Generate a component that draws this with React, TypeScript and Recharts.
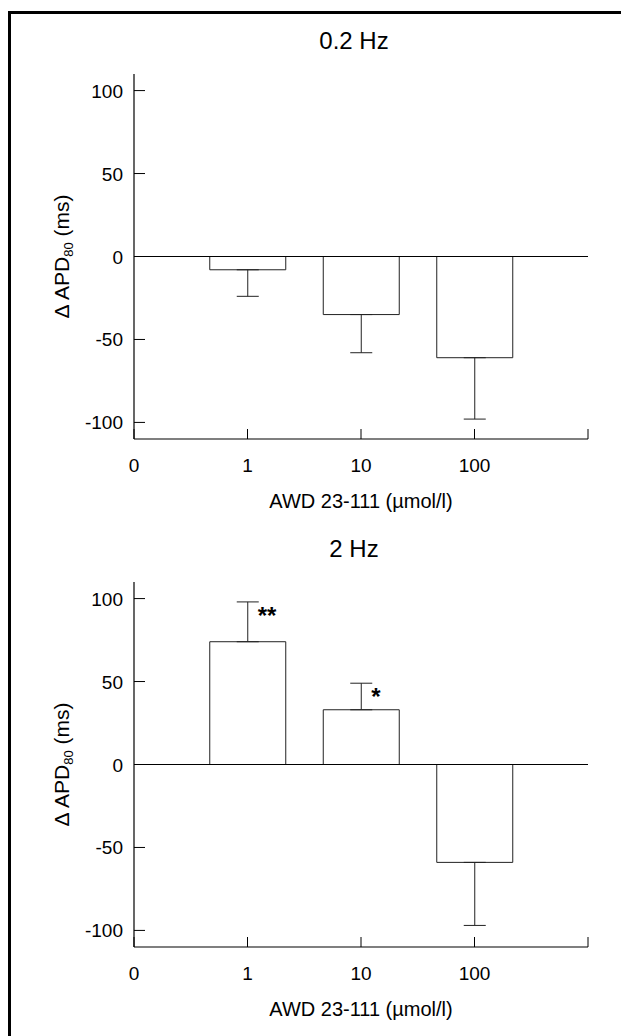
import React from 'react';
import { BarChart, Bar, XAxis, YAxis, ErrorBar, ReferenceLine, LabelList } from 'recharts';

// x positions on a linear 0..4 axis, each labelled with a concentration
const xTickPositions = [0, 1, 2, 3, 4];
const xTickLabels = ['0', '1', '10', '100', ''];
const barPositions = [1, 2, 3];
const concentrations = ['1', '10', '100'];
const yTicks = [-100, -50, 0, 50, 100];

// 0.2 Hz stimulation
const slowMeans = [-8, -35, -61];
const slowSD = [16, 23, 37];

// 2 Hz stimulation
const fastMeans = [74, 33, -59];
const fastSD = [24, 16, 38];
const fastSignificance = ['**', '*', ''];

const FONT = '"Liberation Sans", Arial, Helvetica, sans-serif';

const buildData = (means: number[], sds: number[], sig: string[] = []) =>
  means.map((m, i) => ({
    conc: concentrations[i],
    pos: barPositions[i],
    mean: m,
    sd: sds[i],
    // error drawn only away from zero
    err: m < 0 ? [sds[i], 0] : [0, sds[i]],
    sig: sig[i] || '',
  }));

const XTick = (props: any) => {
  const { x, y, payload } = props;
  const idx = xTickPositions.indexOf(payload.value);
  return (
    <g>
      <line x1={x} y1={y} x2={x} y2={y - 10} stroke="#000" strokeWidth={1} />
      <text x={x} y={y + 33} textAnchor="middle" fontSize={19} fontFamily={FONT} fill="#000">
        {xTickLabels[idx]}
      </text>
    </g>
  );
};

const YTick = (props: any) => {
  const { x, y, payload } = props;
  return (
    <g>
      <line x1={x} y1={y} x2={x + 11} y2={y} stroke="#000" strokeWidth={1} />
      <text x={x - 11} y={y + 7} textAnchor="end" fontSize={19} fontFamily={FONT} fill="#000">
        {payload.value}
      </text>
    </g>
  );
};

const YTitle = (props: any) => {
  const vb = props.viewBox;
  const cx = vb.x - 5;
  const cy = vb.y + vb.height / 2;
  return (
    <text
      x={cx}
      y={cy}
      transform={`rotate(-90, ${cx}, ${cy})`}
      textAnchor="middle"
      fontSize={21}
      fontFamily={FONT}
      fill="#000"
    >
      <tspan>{'\u0394 APD'}</tspan>
      <tspan fontSize={13} dy={4}>80</tspan>
      <tspan dy={-4}>{'  (ms)'}</tspan>
    </text>
  );
};

const XTitle = (props: any) => {
  const vb = props.viewBox;
  return (
    <text
      x={vb.x + vb.width / 2}
      y={vb.y + 69}
      textAnchor="middle"
      fontSize={20}
      fontFamily={FONT}
      fill="#000"
    >
      AWD 23-111 (µmol/l)
    </text>
  );
};

const makeSigLabel = (data: any[]) => (props: any) => {
  const { x, y, width, height, index } = props;
  const d = data[index];
  if (!d || !d.sig || d.mean <= 0) return null;
  const pxPerUnit = Math.abs(height) / Math.abs(d.mean);
  const capY = y - d.sd * pxPerUnit;
  return (
    <text
      x={x + width / 2 + 10}
      y={capY + 22}
      fontSize={24}
      fontWeight="bold"
      fontFamily={FONT}
      fill="#000"
    >
      {d.sig}
    </text>
  );
};

const Panel = ({ title, data, top, showSig }: { title: string; data: any[]; top: number; showSig?: boolean }) => (
  <div style={{ position: 'absolute', left: 0, top: top, width: 610, height: 500 }}>
    <div
      style={{
        position: 'absolute',
        left: 196,
        top: 6,
        width: 300,
        height: 30,
        lineHeight: '30px',
        textAlign: 'center',
        fontSize: 24,
        fontFamily: FONT,
        color: '#000',
      }}
    >
      {title}
    </div>
    <BarChart width={610} height={500} data={data} margin={{ top: 54, right: 30, bottom: 41, left: 66 }}>
      <XAxis
        type="number"
        dataKey="pos"
        domain={[0, 4]}
        ticks={xTickPositions}
        interval={0}
        height={40}
        tickSize={0}
        tickMargin={0}
        tickLine={false}
        tick={<XTick />}
        axisLine={{ stroke: '#000', strokeWidth: 1.2 }}
        label={<XTitle />}
      />
      <YAxis
        type="number"
        domain={[-110, 110]}
        ticks={yTicks}
        interval={0}
        width={60}
        tickSize={0}
        tickMargin={0}
        tickLine={false}
        tick={<YTick />}
        axisLine={{ stroke: '#000', strokeWidth: 1.2 }}
        label={<YTitle />}
      />
      <ReferenceLine y={0} stroke="#000" strokeWidth={1.2} />
      <Bar dataKey="mean" barSize={76} fill="#fff" stroke="#222" strokeWidth={1} isAnimationActive={false}>
        <ErrorBar dataKey="err" width={11} stroke="#222" strokeWidth={1} direction="y" />
        {showSig && <LabelList dataKey="sig" content={makeSigLabel(data)} />}
      </Bar>
    </BarChart>
  </div>
);

export default function App() {
  const slowData = buildData(slowMeans, slowSD);
  const fastData = buildData(fastMeans, fastSD, fastSignificance);
  return (
    <div style={{ position: 'relative', width: 621, height: 1028, background: '#fff', fontFamily: FONT }}>
      <div style={{ position: 'absolute', left: 0, top: 3, width: 621, height: 3, background: '#000' }} />
      <div style={{ position: 'absolute', left: 0, top: 3, width: 3, height: 1025, background: '#000' }} />
      <Panel title="0.2 Hz" data={slowData} top={12} />
      <Panel title="2 Hz" data={fastData} top={520} showSig />
    </div>
  );
}
